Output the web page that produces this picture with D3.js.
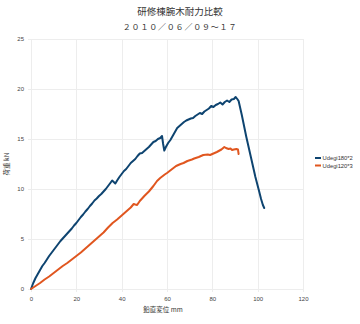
<!DOCTYPE html>
<html>
<head>
<meta charset="utf-8">
<script src="https://cdn.jsdelivr.net/npm/d3@7"></script>
<style>
  html, body { margin: 0; padding: 0; background: #fff; }
  svg { display: block; font-family: "Noto Sans CJK JP", "Noto Sans", sans-serif; }
</style>
</head>
<body>
<svg id="chart" width="360" height="324"></svg>
<script>
// Load–displacement test results: [displacement mm, load kN]
const seriesNames = ["Udegi180*2", "Udegi120*3"];
const seriesColors = ["#0e4470", "#e0561f"];

const udegi180x2 = [
  [0,0],[1,0.6],[2,1.1],[3,1.5],[4,1.9],[5,2.3],[6,2.6],[7,2.95],[8,3.3],[9,3.6],
  [10,3.9],[11,4.2],[12,4.5],[13,4.8],[14,5.05],[15,5.3],[16,5.55],[17,5.8],[18,6.05],
  [19,6.35],[20,6.6],[21,6.9],[22,7.2],[23,7.45],[24,7.75],[25,8.0],[26,8.3],[27,8.55],
  [28,8.85],[29,9.05],[30,9.3],[31,9.5],[32,9.75],[33,10.0],[34,10.3],[35,10.6],
  [35.8,10.85],[36.5,10.7],[37.2,10.55],[38,10.85],[39,11.2],[40,11.5],[41,11.8],[42,12.0],
  [43,12.3],[44,12.6],[45,12.8],[46,13.0],[47,13.3],[48,13.55],[49,13.6],[50,13.8],
  [51,14.0],[52,14.2],[53,14.45],[54,14.7],[55,14.8],[56,15.0],[57,15.1],[57.8,15.3],
  [58.3,14.5],[58.8,13.85],[59.5,14.2],[60.5,14.6],[61.5,14.9],[62.5,15.3],[63.5,15.7],
  [64.5,16.1],[65.5,16.3],[66.5,16.5],[67.5,16.7],[68.5,16.85],[69.5,16.95],[70.5,17.05],
  [71.5,17.1],[72.5,17.3],[73.5,17.45],[74.5,17.6],[75.5,17.5],[76.5,17.75],[77.5,17.9],
  [78.5,18.05],[79.5,18.3],[80.5,18.2],[81.5,18.4],[82.5,18.5],[83.5,18.65],[84.5,18.45],
  [85.5,18.7],[86.5,18.85],[87.5,18.7],[88.5,18.95],[89.5,19.0],[90.3,19.2],[91,19.0],
  [91.6,18.8],[93,17.4],[95,15.2],[97,13.2],[99,11.2],[100.5,9.9],[101.5,9.0],
  [102.3,8.4],[102.9,8.1]
];

const udegi120x3 = [
  [0,0],[2,0.3],[4,0.6],[6,0.95],[8,1.25],[10,1.6],[12,1.95],[14,2.3],[16,2.6],[18,2.95],
  [20,3.3],[22,3.65],[24,4.05],[26,4.45],[28,4.85],[30,5.25],[32,5.65],[33,5.9],[34,6.15],
  [36,6.6],[38,6.95],[40,7.35],[42,7.75],[44,8.15],[45.3,8.5],[46,8.45],[46.8,8.4],
  [48,8.8],[50,9.3],[52,9.75],[54,10.3],[55.6,10.8],[57,11.1],[59,11.45],[60,11.6],
  [62,11.95],[64,12.3],[66,12.5],[67.3,12.6],[69,12.8],[71,12.95],[72,13.05],[74,13.2],
  [76,13.4],[78,13.45],[79,13.4],[80,13.5],[82,13.7],[84,13.95],[85.3,14.2],[86,14.1],
  [87.2,14.0],[88,14.05],[88.7,13.9],[89.5,13.95],[90.6,14.0],[91.3,13.95],[91.6,13.5]
];

const xTicks = [0, 20, 40, 60, 80, 100, 120];
const yTicks = [0, 5, 10, 15, 20, 25];

const titleText = "研修棟腕木耐力比較";
const subtitleText = "２０１０／０６／０９〜１７";
const xTitle = "鉛直変位 mm";
const yTitle = "荷重 kN";

const svg = d3.select("#chart");
const plot = { left: 31, right: 303, top: 39, bottom: 289 };

const x = d3.scaleLinear().domain([0, 120]).range([plot.left, plot.right]);
const y = d3.scaleLinear().domain([0, 25]).range([plot.bottom, plot.top]);

// Titles
svg.append("text").attr("x", 180).attr("y", 15).attr("text-anchor", "middle")
  .attr("font-size", 9.5).attr("fill", "#333").text(titleText);
svg.append("text").attr("x", 180).attr("y", 30).attr("text-anchor", "middle")
  .attr("font-size", 8).attr("fill", "#333").attr("letter-spacing", 0.8).text(subtitleText);

// Gridlines
const grid = svg.append("g").attr("stroke", "#ededed").attr("stroke-width", 1);
grid.selectAll("line.v").data(xTicks).join("line")
  .attr("x1", d => Math.round(x(d)) + 0.5).attr("x2", d => Math.round(x(d)) + 0.5)
  .attr("y1", plot.top).attr("y2", plot.bottom + 3);
grid.selectAll("line.h").data(yTicks).join("line")
  .attr("x1", plot.left - 3).attr("x2", plot.right)
  .attr("y1", d => Math.round(y(d)) + 0.5).attr("y2", d => Math.round(y(d)) + 0.5);

// Axes (labels only; gridlines carry the ticks)
const xAxis = svg.append("g").attr("transform", `translate(0,${plot.bottom})`)
  .call(d3.axisBottom(x).tickValues(xTicks).tickSize(0).tickPadding(8));
const yAxis = svg.append("g").attr("transform", `translate(${plot.left},0)`)
  .call(d3.axisLeft(y).tickValues(yTicks).tickSize(0).tickPadding(7));
[xAxis, yAxis].forEach(a => {
  a.select(".domain").remove();
  a.selectAll("text").attr("font-size", 6).attr("fill", "#444")
    .attr("font-family", "Liberation Sans, Arial, sans-serif");
});

// Axis titles
svg.append("text").attr("x", 163).attr("y", 312).attr("text-anchor", "middle")
  .attr("font-size", 6.5).attr("fill", "#333").text(xTitle);
svg.append("text").attr("transform", `translate(9,${(plot.top + plot.bottom) / 2}) rotate(-90)`)
  .attr("text-anchor", "middle").attr("font-size", 6.5).attr("fill", "#333").text(yTitle);

// Series lines
const line = d3.line().x(d => x(d[0])).y(d => y(d[1]));
[udegi180x2, udegi120x3].forEach((data, i) => {
  svg.append("path").datum(data)
    .attr("fill", "none").attr("stroke", seriesColors[i])
    .attr("stroke-width", 2).attr("stroke-linejoin", "round").attr("stroke-linecap", "round")
    .attr("d", line);
});

// Legend
const legend = svg.append("g").attr("transform", "translate(315,158)");
seriesNames.forEach((name, i) => {
  const g = legend.append("g").attr("transform", `translate(0,${i * 7.5})`);
  g.append("line").attr("x1", 0).attr("x2", 6).attr("y1", 0).attr("y2", 0)
    .attr("stroke", seriesColors[i]).attr("stroke-width", 2);
  g.append("text").attr("x", 7.5).attr("y", 2).attr("font-size", 5.8).attr("fill", "#333")
    .attr("font-family", "Liberation Sans, Arial, sans-serif").text(name);
});
</script>
</body>
</html>
